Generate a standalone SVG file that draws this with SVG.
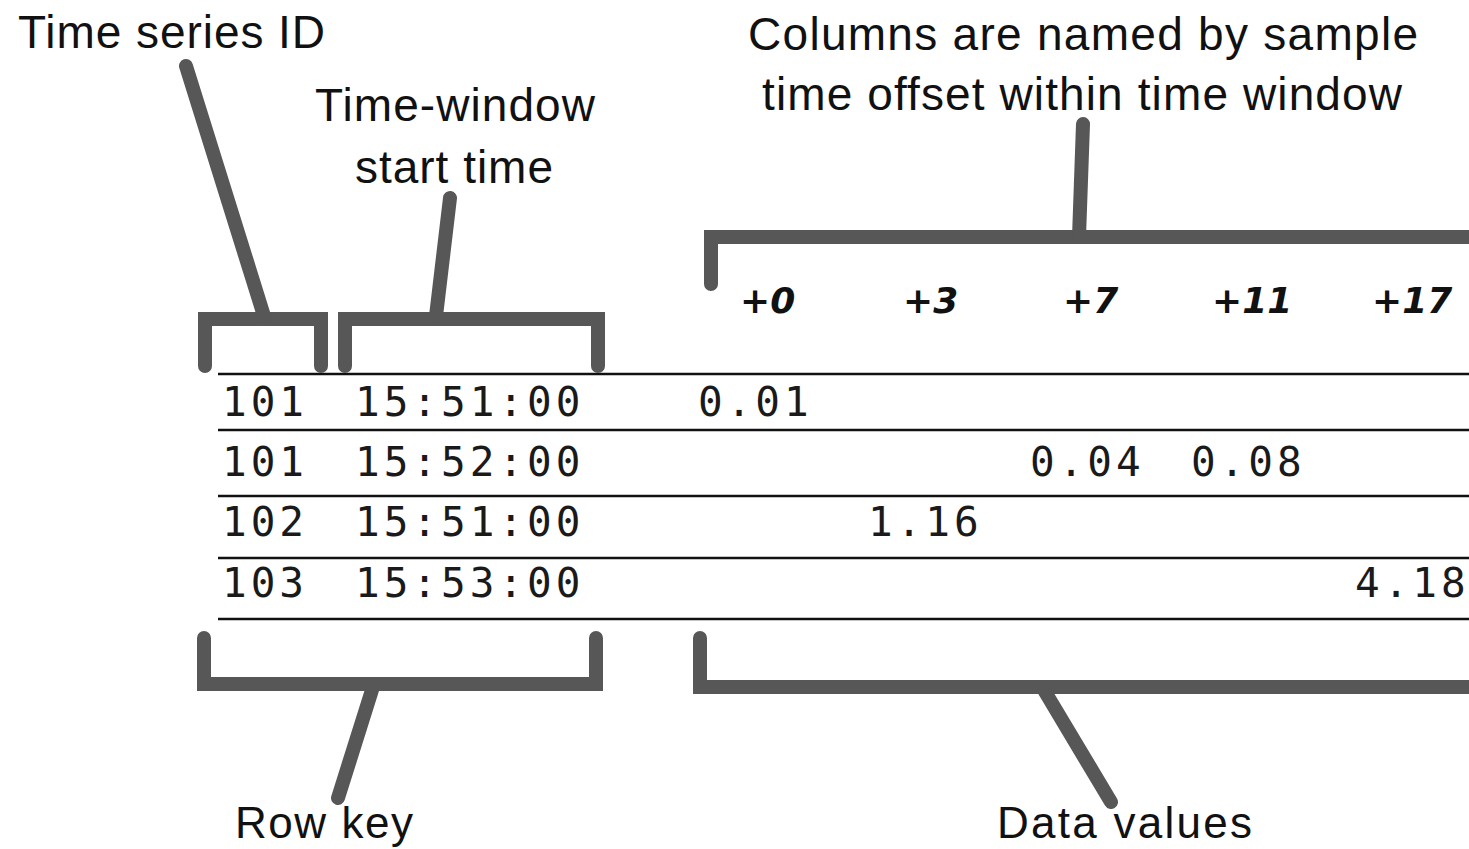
<svg xmlns="http://www.w3.org/2000/svg" width="1469" height="849" viewBox="0 0 1469 849">
  <style>
    .label { font-family: "Liberation Sans", Arial, sans-serif; font-size: 46px; fill: #111; }
    .label-low { font-size: 44px; }
    .head { font-family: "DejaVu Sans", sans-serif; font-size: 36px; font-weight: bold; font-style: italic; fill: #111; }
    .cell { font-family: "DejaVu Sans Mono", monospace; font-size: 41px; letter-spacing: 4px; fill: #1a1a1a; }
    .brace { fill: none; stroke: #575757; stroke-width: 14; stroke-linecap: round; stroke-linejoin: miter; }
    .rule { stroke: #111; stroke-width: 2.5; }
  </style>
  <rect width="1469" height="849" fill="#ffffff"/>

  <!-- annotation labels -->
  <g id="label-series-id">
    <text class="label" x="18" y="48" textLength="307" lengthAdjust="spacing">Time series ID</text>
  </g>
  <g id="label-window-start">
    <text class="label" x="315" y="121" textLength="280" lengthAdjust="spacing">Time-window</text>
    <text class="label" x="355" y="183" textLength="198" lengthAdjust="spacing">start time</text>
  </g>
  <g id="label-columns">
    <text class="label" x="748" y="50" textLength="670" lengthAdjust="spacing">Columns are named by sample</text>
    <text class="label" x="762" y="110" textLength="640" lengthAdjust="spacing">time offset within time window</text>
  </g>
  <g id="label-row-key">
    <text class="label label-low" x="235" y="838" textLength="178" lengthAdjust="spacing">Row key</text>
  </g>
  <g id="label-data-values">
    <text class="label label-low" x="997" y="838" textLength="255" lengthAdjust="spacing">Data values</text>
  </g>

  <!-- column headers: sample time offsets -->
  <g id="column-headers">
    <text class="head" x="740" y="313">+0</text>
    <text class="head" x="903" y="313">+3</text>
    <text class="head" x="1063" y="313">+7</text>
    <text class="head" x="1212" y="313">+11</text>
    <text class="head" x="1372" y="313">+17</text>
  </g>

  <!-- table rules -->
  <g id="table-rules">
    <line class="rule" x1="218" y1="374" x2="1469" y2="374"/>
    <line class="rule" x1="218" y1="430" x2="1469" y2="430"/>
    <line class="rule" x1="218" y1="496" x2="1469" y2="496"/>
    <line class="rule" x1="218" y1="558" x2="1469" y2="558"/>
    <line class="rule" x1="218" y1="619" x2="1469" y2="619"/>
  </g>

  <!-- table rows -->
  <g id="row-1">
    <text class="cell" x="222" y="416">101</text>
    <text class="cell" x="355" y="416">15:51:00</text>
    <text class="cell" x="698" y="416">0.01</text>
  </g>
  <g id="row-2">
    <text class="cell" x="222" y="476">101</text>
    <text class="cell" x="355" y="476">15:52:00</text>
    <text class="cell" x="1030" y="476">0.04</text>
    <text class="cell" x="1191" y="476">0.08</text>
  </g>
  <g id="row-3">
    <text class="cell" x="222" y="536">102</text>
    <text class="cell" x="355" y="536">15:51:00</text>
    <text class="cell" x="868" y="536">1.16</text>
  </g>
  <g id="row-4">
    <text class="cell" x="222" y="597">103</text>
    <text class="cell" x="355" y="597">15:53:00</text>
    <text class="cell" x="1355" y="597">4.18</text>
  </g>

  <!-- braces and leader lines -->
  <g id="connectors">
    <path class="brace" d="M205,366 V319 H321 V366"/>
    <path class="brace" d="M345,366 V319 H598 V366"/>
    <path class="brace" d="M711,284 V237 H1480"/>
    <path class="brace" d="M204,638 V684 H596 V638"/>
    <path class="brace" d="M700,638 V687 H1480"/>
    <line class="brace" x1="186" y1="66" x2="264" y2="316"/>
    <line class="brace" x1="450" y1="198" x2="436" y2="316"/>
    <line class="brace" x1="1083" y1="124" x2="1079" y2="237"/>
    <line class="brace" x1="372" y1="690" x2="338" y2="798"/>
    <line class="brace" x1="1044" y1="690" x2="1111" y2="802"/>
  </g>
</svg>
